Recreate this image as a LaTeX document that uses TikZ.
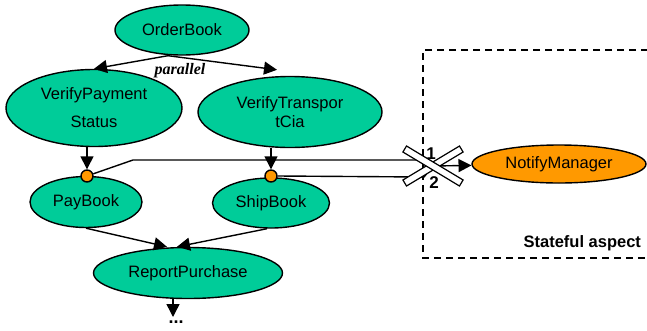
\documentclass[tikz,border=0pt]{standalone}
\usepackage{fontspec}
\setmainfont{Liberation Sans}
\newfontfamily\timesfont{Liberation Serif}
\usetikzlibrary{shapes.geometric, arrows.meta}

\definecolor{taskgreen}{RGB}{0,204,153}
\definecolor{aspectorange}{RGB}{255,153,0}

\tikzset{
  task/.style={ellipse, draw, line width=1.4pt, fill=taskgreen, inner sep=0pt,
    align=center, font=\fontsize{16.5}{19}\selectfont},
  advice/.style={task, fill=aspectorange},
  joinpt/.style={circle, draw, line width=1.4pt, fill=aspectorange, inner sep=0pt, minimum size=12pt},
  cutbar/.style={draw, fill=white, line width=1.2pt, inner sep=0pt, minimum width=66pt, minimum height=7pt},
  digit/.style={font=\bfseries\fontsize{17}{19}\selectfont, inner sep=0pt},
}

\begin{document}
\begin{tikzpicture}[x=1pt, y=-1pt, >={Triangle[length=13pt,width=13pt]}, line width=1.4pt]
  \useasboundingbox (0,0) rectangle (647,330);

  % Rahmen des Aspekts
  \draw[line width=1.4pt, dash pattern=on 7pt off 5pt] (660,50) -- (423,50) -- (423,258) -- (660,258);
  \node[anchor=east, font=\bfseries\fontsize{16.5}{19}\selectfont] (aspectlabel) at (645,243) {Stateful aspect};

  % Aufgaben
  \node[task, minimum width=134, minimum height=50] (OrderBook) at (182,30) {OrderBook};
  \node[task, minimum width=176, minimum height=77] (VerifyPayment) at (94,108) {VerifyPayment\\[9pt]Status};
  \node[task, minimum width=184, minimum height=71] (VerifyTransport) at (290,112) {VerifyTranspor\\tCia};
  \node[task, minimum width=112, minimum height=51] (PayBook) at (86,202) {PayBook};
  \node[task, minimum width=117, minimum height=50] (ShipBook) at (271,203) {ShipBook};
  \node[task, minimum width=189, minimum height=51] (ReportPurchase) at (188,273) {ReportPurchase};
  \node[advice, minimum width=174, minimum height=38] (NotifyManager) at (559,164) {NotifyManager};

  % Joinpoints
  \node[joinpt] (paydot) at (87,176) {};
  \node[joinpt] (shipdot) at (271,176) {};

  % Kontrollfluss
  \draw[->] ([xshift=-14pt]OrderBook.south) -- (VerifyPayment.north);
  \draw[->] ([xshift=-14pt]OrderBook.south) -- ([shift={(-13,-6)}]VerifyTransport.north);
  \node[font=\timesfont\bfseries\itshape\fontsize{16}{18}\selectfont] (par) at (180,71) {parallel};

  \draw[->] (VerifyPayment.south -| paydot) -- (paydot.north);
  \draw[->] (VerifyTransport.south -| shipdot) -- (shipdot.north);
  \draw[->] (PayBook.south) -- ([xshift=-21pt]ReportPurchase.north);
  \draw[->] ([xshift=-4pt]ShipBook.south) -- ([xshift=-11pt]ReportPurchase.north);

  \coordinate (tail) at (173,317);
  \draw[->] (ReportPurchase.south -| tail) -- (tail);
  \node[font=\bfseries\fontsize{18}{19}\selectfont, inner sep=0pt] (more) at (176,322) {...};

  % Verbindungen zum Aspekt
  \coordinate (bend) at (133,160);
  \coordinate (merge) at (433,166);
  \coordinate (in1) at (424,160);
  \coordinate (in2) at (424,177);
  \draw (paydot) -- (bend) -- (in1) -- (merge);
  \draw (shipdot.east) -- (in2) -- (merge);
  \draw[->] (merge) -- (NotifyManager);

  % Durchgestrichen
  \node[cutbar, rotate=31] (cutA) at (merge) {};
  \node[cutbar, rotate=-31] (cutB) at (merge) {};
  \node[digit] (one) at (431,154) {1};
  \node[digit] (two) at (434,183) {2};
\end{tikzpicture}
\end{document}
